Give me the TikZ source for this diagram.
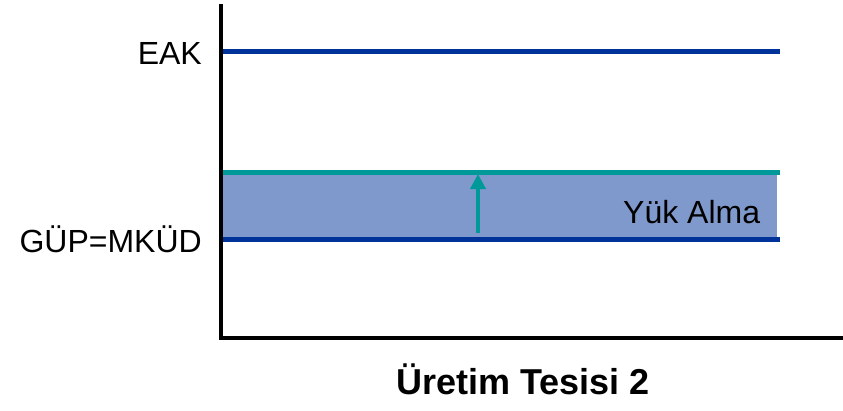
\documentclass[tikz,border=0pt]{standalone}
\usepackage{fontspec}
\setmainfont{Liberation Sans}
\usetikzlibrary{arrows.meta}
\definecolor{lvlblue}{HTML}{003399}
\definecolor{lvlteal}{HTML}{009999}
\definecolor{bandfill}{HTML}{7F99CC}
\begin{document}
\begin{tikzpicture}[x=1pt,y=-1pt,
  axisline/.style={line width=4pt,black,line cap=rect},
  bluelevel/.style={line width=5pt,lvlblue},
  teallevel/.style={line width=5pt,lvlteal},
  lbl/.style={font=\fontsize{32}{36}\selectfont,inner sep=0pt},
  ttl/.style={font=\fontsize{36}{40}\selectfont\bfseries,inner sep=0pt}]
\useasboundingbox (0,0) rectangle (843,410);
% band
\fill[bandfill] (222,172) rectangle (777,239);
% coordinates
\coordinate (ytop) at (221,6);
\coordinate (orig) at (221,338);
\coordinate (xend) at (841,338);
\coordinate (eakL) at (222,51);
\coordinate (eakR) at (780,51);
\coordinate (tealL) at (222,172);
\coordinate (tealR) at (780,172);
\coordinate (gupL) at (222,239);
\coordinate (gupR) at (780,239);
\coordinate (arrB) at (478,233);
\coordinate (arrT) at (478,174);
% levels
\draw[bluelevel] (eakL) -- (eakR);
\draw[teallevel] (tealL) -- (tealR);
\draw[bluelevel] (gupL) -- (gupR);
% arrow
\draw[lvlteal,line width=4pt,-{Triangle[length=15pt,width=15pt]}] (arrB) -- (arrT);
% axes
\draw[axisline] (ytop) -- (orig) -- (xend);
% labels
\node[lbl,anchor=base east] (eak) at (202,64) {EAK};
\node[lbl,anchor=base east] (gup) at (202,252) {GÜP=MKÜD};
\node[lbl,anchor=base west] (yuk) at (623,223) {Yük Alma};
\node[ttl,anchor=base] (title) at (523,394) {Üretim Tesisi 2};
\end{tikzpicture}
\end{document}
